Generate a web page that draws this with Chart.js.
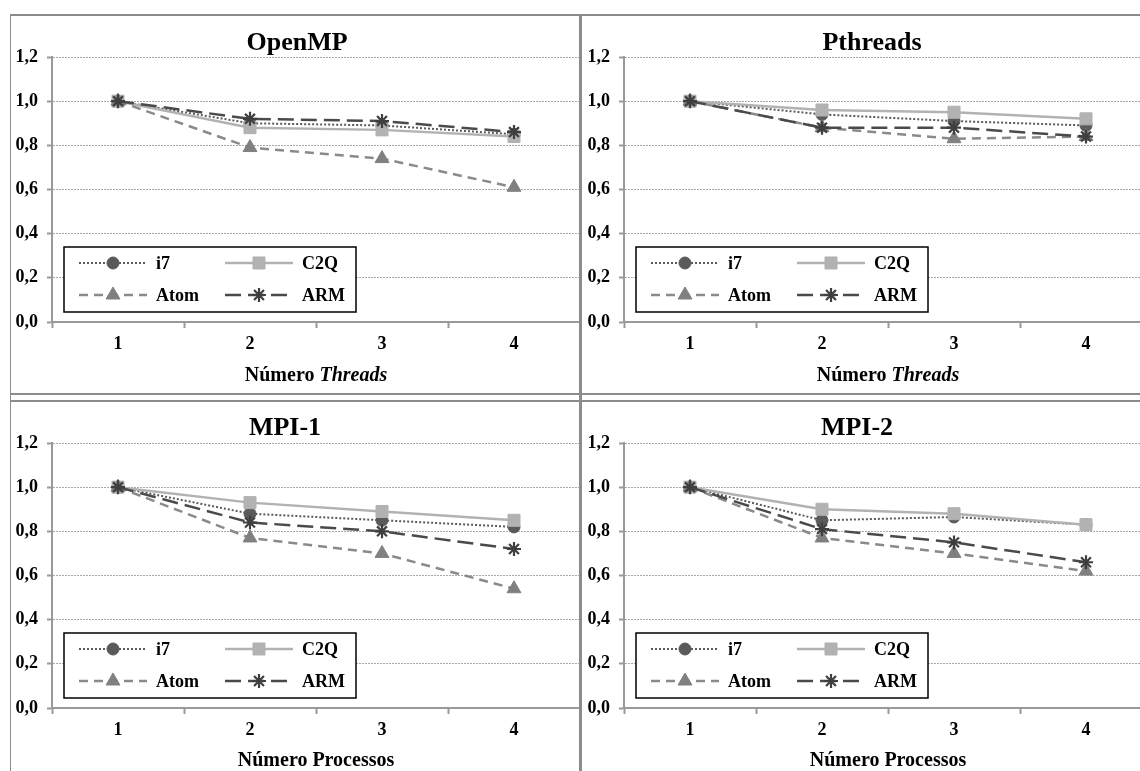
<!DOCTYPE html>
<html><head><meta charset="utf-8">
<script src="https://cdn.jsdelivr.net/npm/chart.js@4.4.0/dist/chart.umd.min.js"></script>
<style>
html,body{margin:0;padding:0;background:#fff;width:1140px;height:771px;overflow:hidden;position:relative;}
.pane{position:absolute;}
.ln{position:absolute;background:#8c8c8c;}
</style></head><body>
<div class="pane" style="left:10px;top:16px;width:570px;height:378px"><canvas id="c0"></canvas></div>
<div class="pane" style="left:582px;top:16px;width:570px;height:378px"><canvas id="c1"></canvas></div>
<div class="pane" style="left:10px;top:402px;width:570px;height:369px"><canvas id="c2"></canvas></div>
<div class="pane" style="left:582px;top:402px;width:570px;height:369px"><canvas id="c3"></canvas></div>
<div class="ln" style="left:10px;top:14px;width:1130px;height:2px"></div>
<div class="ln" style="left:10px;top:14px;width:1px;height:757px"></div>
<div class="ln" style="left:579px;top:14px;width:3px;height:757px"></div>
<div class="ln" style="left:10px;top:393px;width:1130px;height:2px"></div>
<div class="ln" style="left:10px;top:400px;width:1130px;height:2px"></div>
<script>
const categories = ['1', '2', '3', '4'];
const seriesNames = ['i7', 'C2Q', 'Atom', 'ARM'];
const panelTitles = ['OpenMP', 'Pthreads', 'MPI-1', 'MPI-2'];
const xTitleThreads = ['Número ', 'Threads'];
const xTitleProcs = ['Número Processos', ''];
const yTickValues = [0, 0.2, 0.4, 0.6, 0.8, 1.0, 1.2];

const openmp_i7   = [1.00, 0.90, 0.89, 0.85];
const openmp_c2q  = [1.00, 0.88, 0.87, 0.84];
const openmp_atom = [1.00, 0.79, 0.74, 0.61];
const openmp_arm  = [1.00, 0.92, 0.91, 0.86];

const pthreads_i7   = [1.00, 0.94, 0.91, 0.89];
const pthreads_c2q  = [1.00, 0.96, 0.95, 0.92];
const pthreads_atom = [1.00, 0.88, 0.83, 0.84];
const pthreads_arm  = [1.00, 0.88, 0.88, 0.84];

const mpi1_i7   = [1.00, 0.88, 0.85, 0.82];
const mpi1_c2q  = [1.00, 0.93, 0.89, 0.85];
const mpi1_atom = [1.00, 0.77, 0.70, 0.54];
const mpi1_arm  = [1.00, 0.84, 0.80, 0.72];

const mpi2_i7   = [1.00, 0.85, 0.865, 0.83];
const mpi2_c2q  = [1.00, 0.90, 0.88, 0.83];
const mpi2_atom = [1.00, 0.77, 0.70, 0.62];
const mpi2_arm  = [1.00, 0.81, 0.75, 0.66];

const FONT = '"Liberation Serif", "Times New Roman", serif';

const seriesStyles = [
  {borderColor:'#5a5a5a', borderWidth:2, borderDash:[2,2], pointStyle:'circle', pointRadius:6, pointBackgroundColor:'#5a5a5a', pointBorderColor:'#5a5a5a', pointBorderWidth:1, order:4},
  {borderColor:'#b2b2b2', borderWidth:2.5, borderDash:[], pointStyle:'rect', pointRadius:8.5, pointBackgroundColor:'#b2b2b2', pointBorderColor:'#b2b2b2', pointBorderWidth:1, order:3},
  {borderColor:'#8a8a8a', borderWidth:2.5, borderDash:[9,6], pointStyle:'triangle', pointRadius:8, pointBackgroundColor:'#808080', pointBorderColor:'#808080', pointBorderWidth:1, order:2},
  {borderColor:'#4a4a4a', borderWidth:2.5, borderDash:[16,7], pointStyle:'star', pointRadius:7, pointBackgroundColor:'#3f3f3f', pointBorderColor:'#3f3f3f', pointBorderWidth:2.2, order:1}
];

const decor = {
  id: 'decor',
  afterDatasetsDraw(chart, args, o) {
    const ctx = chart.ctx, ca = chart.chartArea;
    const bw = 292, bh = 65;
    const bx = ca.left + 12, by = ca.bottom - 10 - bh;
    ctx.save();
    ctx.setLineDash([]);
    ctx.fillStyle = '#fff';
    ctx.fillRect(bx, by, bw, bh);
    ctx.lineWidth = 1.5;
    ctx.strokeStyle = '#000';
    ctx.strokeRect(bx, by, bw, bh);
    const colX = [15, 161], rowY = [16, 48];
    chart.data.datasets.forEach((ds, i) => {
      const x0 = bx + colX[i % 2], y = by + rowY[Math.floor(i / 2)];
      ctx.save();
      ctx.beginPath();
      ctx.setLineDash(ds.borderDash || []);
      ctx.lineWidth = ds.borderWidth;
      ctx.strokeStyle = ds.borderColor;
      ctx.moveTo(x0, y); ctx.lineTo(x0 + 68, y);
      ctx.stroke();
      ctx.setLineDash([]);
      ctx.fillStyle = ds.pointBackgroundColor;
      ctx.strokeStyle = ds.pointBorderColor;
      ctx.lineWidth = ds.pointBorderWidth;
      Chart.helpers.drawPoint(ctx, {pointStyle: ds.pointStyle, radius: ds.pointRadius, rotation: 0, borderWidth: ds.pointBorderWidth}, x0 + 34, y);
      ctx.restore();
      ctx.fillStyle = '#000';
      ctx.font = 'bold 18px ' + FONT;
      ctx.textAlign = 'left';
      ctx.textBaseline = 'middle';
      ctx.fillText(ds.label, x0 + 77, y + 1);
    });
    ctx.restore();
  },
  afterDraw(chart, args, o) {
    const ctx = chart.ctx, ca = chart.chartArea;
    ctx.save();
    ctx.fillStyle = '#000';
    ctx.textBaseline = 'middle';
    ctx.textAlign = 'center';
    ctx.font = 'bold 26px ' + FONT;
    ctx.fillText(o.title, (ca.left + ca.right) / 2 + o.titleShift, o.titleY);
    const f1 = 'bold 20px ' + FONT, f2 = 'italic bold 20px ' + FONT;
    ctx.font = f1; const w1 = ctx.measureText(o.xTitle[0]).width;
    ctx.font = f2; const w2 = ctx.measureText(o.xTitle[1]).width;
    const cxx = (ca.left + ca.right) / 2;
    let x = cxx - (w1 + w2) / 2;
    ctx.textAlign = 'left';
    ctx.font = f1; ctx.fillText(o.xTitle[0], x, o.xTitleY);
    ctx.font = f2; ctx.fillText(o.xTitle[1], x + w1, o.xTitleY);
    ctx.restore();
  }
};

function makeChart(id, title, titleShift, xTitle, xAxisH, titleY, xTitleY, vals) {
  const datasets = vals.map((v, i) => Object.assign({label: seriesNames[i], data: v, fill: false, tension: 0, pointHoverRadius: 6}, seriesStyles[i]));
  return new Chart(document.getElementById(id), {
    type: 'line',
    data: {labels: categories, datasets},
    options: {
      responsive: true, maintainAspectRatio: false, animation: false,
      layout: {autoPadding: false, padding: {top: 41, left: 0, right: 0, bottom: 0}},
      plugins: {legend: {display: false}, title: {display: false}, tooltip: {enabled: false},
        decor: {title, titleShift, xTitle, titleY, xTitleY}},
      scales: {
        x: {
          offset: true,
          grid: {offset: true, drawOnChartArea: false, drawTicks: true, tickLength: 6, tickColor: '#999', tickWidth: 2},
          border: {display: true, color: '#999', width: 2},
          ticks: {color: '#000', font: {family: FONT, size: 18, weight: 'bold'}, padding: 6, maxRotation: 0},
          afterFit: s => { s.height = xAxisH; s.paddingLeft = 0; s.paddingRight = 0; }
        },
        y: {
          min: 0, max: 1.2,
          afterBuildTicks: s => { s.ticks = yTickValues.map(v => ({value: v})); },
          grid: {color: c => (c.tick && c.tick.value === 0) ? 'rgba(0,0,0,0)' : '#a8a8a8', lineWidth: 1, drawTicks: true, tickLength: 5, tickColor: '#999', tickWidth: 2},
          border: {display: true, color: '#999', width: 2, dash: [2, 1]},
          ticks: {color: '#000', font: {family: FONT, size: 18, weight: 'bold'}, padding: 9,
            callback: v => Number(v).toFixed(1).replace('.', ',')},
          afterFit: s => { s.width = 42; }
        }
      }
    },
    plugins: [decor]
  });
}

makeChart('c0', panelTitles[0], -19, xTitleThreads, 72, 27, 360, [openmp_i7, openmp_c2q, openmp_atom, openmp_arm]);
makeChart('c1', panelTitles[1], -16, xTitleThreads, 72, 27, 360, [pthreads_i7, pthreads_c2q, pthreads_atom, pthreads_arm]);
makeChart('c2', panelTitles[2], -31, xTitleProcs, 63, 26, 359, [mpi1_i7, mpi1_c2q, mpi1_atom, mpi1_arm]);
makeChart('c3', panelTitles[3], -31, xTitleProcs, 63, 26, 359, [mpi2_i7, mpi2_c2q, mpi2_atom, mpi2_arm]);
</script>
</body></html>
